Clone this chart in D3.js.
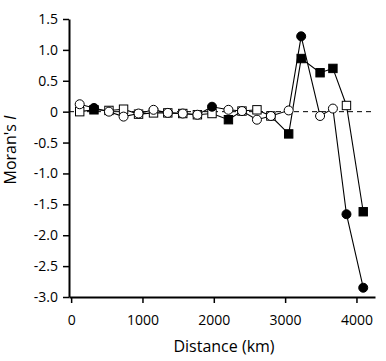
<!DOCTYPE html>
<html>
<head>
<meta charset="utf-8">
<script src="https://cdn.jsdelivr.net/npm/d3@7"></script>
<style>
  body { margin: 0; background: #fff; }
  text { font-family: "Open Sans", "Noto Sans", sans-serif; fill: #000; }
</style>
</head>
<body>
<div id="chart"></div>
<script>
// distance classes (km)
const distances = [120, 320, 530, 735, 945, 1155, 1355, 1565, 1770, 1975,
  2205, 2395, 2605, 2800, 3050, 3225, 3490, 3670, 3860, 4095];

// circle series: Moran's I and significance (filled = significant)
const circleValues = [0.12, 0.06, 0.0, -0.08, -0.03, 0.03, -0.02, -0.03, -0.05, 0.08,
  0.03, 0.01, -0.13, -0.07, 0.02, 1.22, -0.07, 0.05, -1.66, -2.85];
const circleSig = [0, 1, 0, 0, 0, 0, 0, 0, 0, 1, 0, 0, 0, 0, 0, 1, 0, 0, 1, 1];

// square series
const squareValues = [0.0, 0.03, 0.02, 0.04, -0.04, -0.02, -0.02, -0.03, -0.05, -0.03,
  -0.13, 0.01, 0.03, -0.07, -0.36, 0.86, 0.63, 0.7, 0.1, -1.62];
const squareSig = [0, 1, 0, 0, 0, 0, 0, 0, 0, 0, 1, 0, 0, 0, 1, 1, 1, 1, 0, 1];

const xTicks = [0, 1000, 2000, 3000, 4000];
const yTicks = [1.5, 1.0, 0.5, 0, -0.5, -1.0, -1.5, -2.0, -2.5, -3.0];

const W = 386, H = 361;
const plotLeft = 69, plotRight = 375, plotTop = 19, plotBottom = 297;

const svg = d3.select("#chart").append("svg")
  .attr("width", W)
  .attr("height", H);

const x = d3.scaleLinear().domain([-30, 4260]).range([plotLeft, plotRight]);
const y = d3.scaleLinear().domain([-3, 1.5]).range([plotBottom, plotTop]);

// zero reference line
svg.append("line")
  .attr("x1", plotLeft).attr("x2", plotRight)
  .attr("y1", y(0)).attr("y2", y(0))
  .attr("stroke", "#000")
  .attr("stroke-width", 1)
  .attr("stroke-dasharray", "5,4");

const series = [
  { name: "circle", values: circleValues, sig: circleSig },
  { name: "square", values: squareValues, sig: squareSig }
];

const line = d3.line()
  .x(d => x(d.dist))
  .y(d => y(d.value));

series.forEach(s => {
  s.points = distances.map((dist, i) => ({ dist, value: s.values[i], sig: s.sig[i] }));
});

svg.selectAll(".series-line")
  .data(series)
  .join("path")
  .attr("class", "series-line")
  .attr("fill", "none")
  .attr("stroke", "#000")
  .attr("stroke-width", 1.1)
  .attr("d", d => line(d.points));

// squares
svg.selectAll(".sq")
  .data(series[1].points)
  .join("rect")
  .attr("class", "sq")
  .attr("x", d => x(d.dist) - 4.2)
  .attr("y", d => y(d.value) - 4.2)
  .attr("width", 8.4)
  .attr("height", 8.4)
  .attr("fill", d => d.sig ? "#000" : "#fff")
  .attr("stroke", "#000")
  .attr("stroke-width", 1);

// circles
svg.selectAll(".dot")
  .data(series[0].points)
  .join("circle")
  .attr("class", "dot")
  .attr("cx", d => x(d.dist))
  .attr("cy", d => y(d.value))
  .attr("r", 4.5)
  .attr("fill", d => d.sig ? "#000" : "#fff")
  .attr("stroke", "#000")
  .attr("stroke-width", 1);

// axes
const xAxis = svg.append("g")
  .attr("transform", `translate(0,${plotBottom})`)
  .call(d3.axisBottom(x).tickValues(xTicks).tickSize(6).tickPadding(12).tickSizeOuter(0)
    .tickFormat(d3.format("d")));

const yAxis = svg.append("g")
  .attr("transform", `translate(${plotLeft},0)`)
  .call(d3.axisLeft(y).tickValues(yTicks).tickSize(6).tickPadding(5).tickSizeOuter(0)
    .tickFormat(d => d === 0 ? "0" : d3.format(".1f")(d).replace("−", "-")));

[xAxis, yAxis].forEach(g => {
  g.select(".domain").attr("stroke-width", 2);
  g.selectAll(".tick line").attr("stroke-width", 1.5);
  g.selectAll(".tick text").style("font-size", "14px");
});

svg.append("text")
  .attr("x", (plotLeft + plotRight) / 2 + 2)
  .attr("y", 352)
  .attr("text-anchor", "middle")
  .style("font-size", "16px")
  .text("Distance (km)");

const yLabel = svg.append("text")
  .attr("transform", `translate(16,150) rotate(-90)`)
  .attr("text-anchor", "middle")
  .style("font-size", "16px");
yLabel.append("tspan").text("Moran's ");
yLabel.append("tspan").style("font-style", "italic").text("I");
</script>
</body>
</html>
